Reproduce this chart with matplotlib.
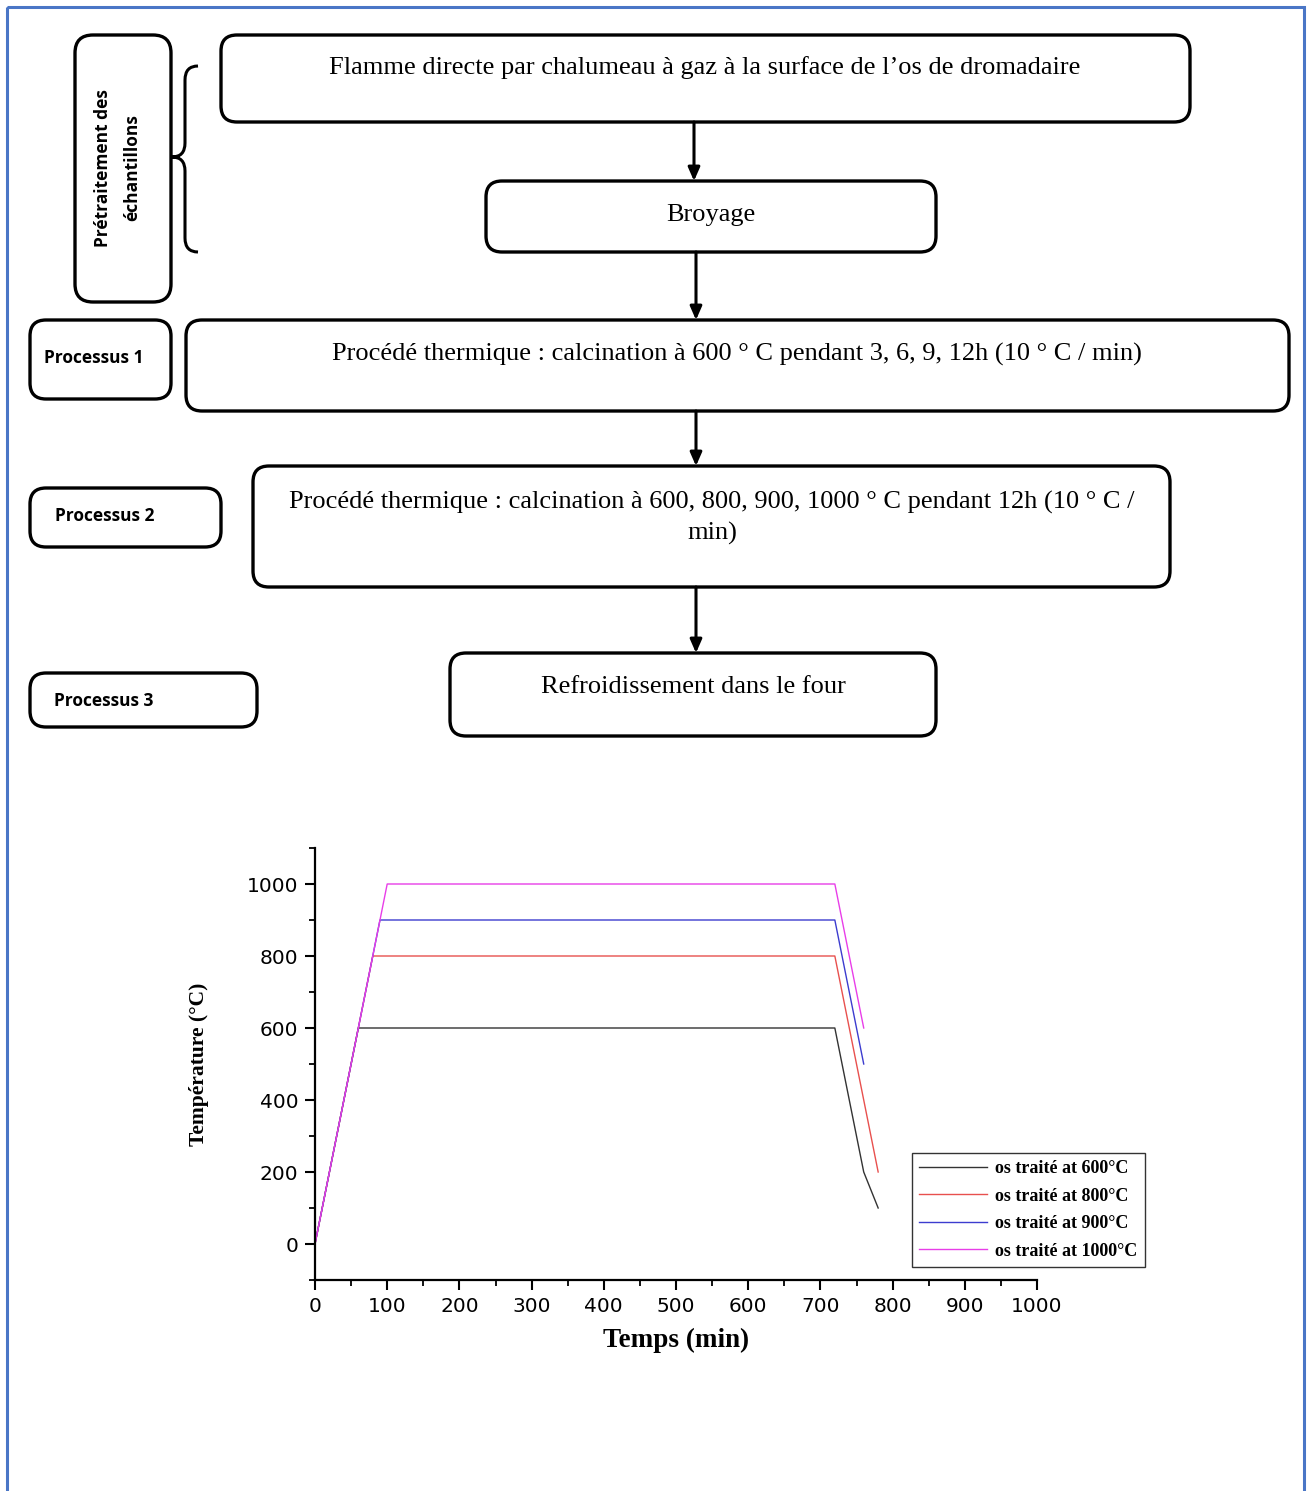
import matplotlib
matplotlib.use('Agg')
import matplotlib.pyplot as plt
from matplotlib.patches import FancyBboxPatch, Rectangle, PathPatch
from matplotlib.path import Path
from matplotlib.ticker import MultipleLocator

# heating curves (time in min, temperature in deg C)
time_600 = [0, 60, 720, 760, 780]
temp_600 = [0, 600, 600, 200, 100]
time_800 = [0, 80, 720, 780]
temp_800 = [0, 800, 800, 200]
time_900 = [0, 90, 720, 760]
temp_900 = [0, 900, 900, 500]
time_1000 = [0, 100, 720, 760]
temp_1000 = [0, 1000, 1000, 600]

labels = ['os traité at 600°C', 'os traité at 800°C', 'os traité at 900°C', 'os traité at 1000°C']
colors = ['#333333', '#e8504e', '#3c3ccf', '#e83ee8']

step_texts = ["Flamme directe par chalumeau à gaz à la surface de l\u2019os de dromadaire",
              "Broyage",
              "Procédé thermique : calcination à 600 ° C pendant 3, 6, 9, 12h (10 ° C / min)",
              "Procédé thermique : calcination à 600, 800, 900, 1000 ° C pendant 12h (10 ° C /\nmin)",
              "Refroidissement dans le four"]
side_texts = ["Processus 1", "Processus 2", "Processus 3"]

W, H = 1308, 1491
fig = plt.figure(figsize=(W/100, H/100), dpi=100)

# flowchart drawn in pixel coordinates
fax = fig.add_axes([0, 0, 1, 1])
fax.set_xlim(0, W)
fax.set_ylim(H, 0)
fax.axis('off')

fax.add_patch(Rectangle((7, 7), 1297, 1520, fill=False, edgecolor='#4a76c6', lw=2.2))

def rbox(x0, y0, x1, y1, r=16):
    fax.add_patch(FancyBboxPatch((x0, y0), x1-x0, y1-y0,
                                 boxstyle='round,pad=0,rounding_size=%d' % r,
                                 fill=False, edgecolor='black', lw=2.4))

def arrow(x, y0, y1):
    fax.annotate('', xy=(x, y1), xytext=(x, y0),
                 arrowprops=dict(arrowstyle='-|>,head_length=0.8,head_width=0.35',
                                 color='black', lw=2.2, shrinkA=0, shrinkB=0))

serif = dict(family='Liberation Serif', fontsize=19, ha='center', va='center')
sans = dict(family='Open Sans', fontsize=12.5, fontweight='bold', ha='center', va='center')

# main steps
rbox(221, 35, 1190, 122)
fax.text(705, 68, step_texts[0], **serif)
rbox(486, 181, 936, 252)
fax.text(711, 215, step_texts[1], **serif)
rbox(186, 320, 1289, 411)
fax.text(737, 354, step_texts[2], **serif)
rbox(253, 466, 1170, 587)
fax.text(712, 518, step_texts[3], linespacing=1.4, **serif)
rbox(450, 653, 936, 736)
fax.text(693, 687, step_texts[4], **serif)

arrow(694, 122, 181)
arrow(696, 252, 320)
arrow(696, 411, 466)
arrow(696, 587, 653)

# side labels
rbox(75, 35, 171, 302, r=18)
fax.text(118, 168, "Prétraitement des\néchantillons", rotation=90, linespacing=1.8,
         multialignment='center', **sans)
rbox(30, 320, 171, 399)
fax.text(94, 358, side_texts[0], **sans)
rbox(30, 488, 221, 547)
fax.text(105, 516, side_texts[1], **sans)
rbox(30, 673, 257, 727)
fax.text(104, 701, side_texts[2], **sans)

# curly brace
verts = [(198, 66), (185, 66), (185, 80), (185, 143), (185, 157), (172, 157),
         (185, 157), (185, 171), (185, 238), (185, 252), (198, 252)]
codes = [Path.MOVETO, Path.CURVE3, Path.CURVE3, Path.LINETO, Path.CURVE3, Path.CURVE3,
         Path.CURVE3, Path.CURVE3, Path.LINETO, Path.CURVE3, Path.CURVE3]
fax.add_patch(PathPatch(Path(verts, codes), fill=False, edgecolor='black', lw=2.2))

# temperature chart
ax = fig.add_axes([315/W, 1-1280/H, (1037-315)/W, (1280-848)/H])
ax.patch.set_alpha(0)
series = [(time_600, temp_600), (time_800, temp_800), (time_900, temp_900), (time_1000, temp_1000)]
for (t, T), c, lab in zip(series, colors, labels):
    ax.plot(t, T, color=c, lw=1.0, label=lab)

ax.set_xlim(0, 1000)
ax.set_ylim(-100, 1100)
ax.xaxis.set_major_locator(MultipleLocator(100))
ax.xaxis.set_minor_locator(MultipleLocator(50))
ax.yaxis.set_major_locator(MultipleLocator(200))
ax.yaxis.set_minor_locator(MultipleLocator(100))
for s in ['top', 'right']:
    ax.spines[s].set_visible(False)
for s in ['left', 'bottom']:
    ax.spines[s].set_linewidth(1.6)
ax.tick_params(which='major', direction='out', length=7, width=1.5, labelsize=14.5, pad=5)
ax.tick_params(which='minor', direction='out', length=4, width=1.3)
for lbl in ax.get_xticklabels() + ax.get_yticklabels():
    lbl.set_family('DejaVu Sans')

ax.set_xlabel('Temps (min)', family='Liberation Serif', fontweight='bold', fontsize=19.5, labelpad=9)
ax.set_ylabel('Température (°C)', family='Liberation Serif', fontweight='bold', fontsize=15.5, labelpad=27)

leg = ax.legend(loc='upper left', bbox_to_anchor=(912/W, 1-1153/H), bbox_transform=fig.transFigure,
                prop=dict(family='Liberation Serif', weight='bold', size=13),
                frameon=True, fancybox=False, edgecolor='black', borderpad=0.4,
                handlelength=3.75, handletextpad=0.45, labelspacing=0.58, borderaxespad=0)
leg.get_frame().set_linewidth(1.0)

fig.savefig('out.png', dpi=100)
